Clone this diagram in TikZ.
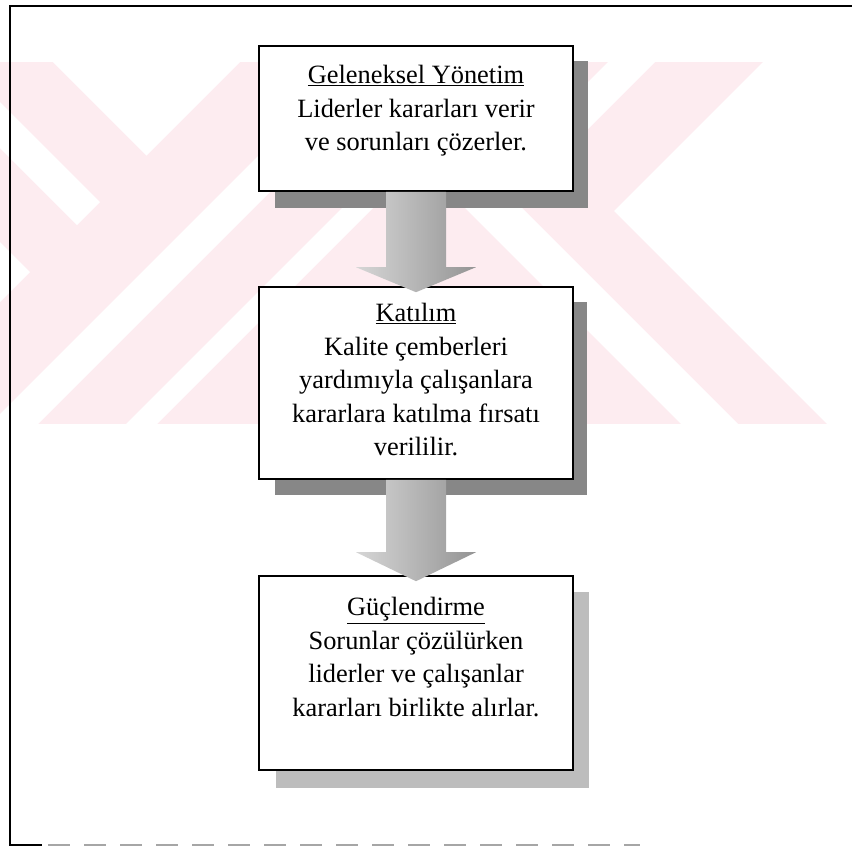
\documentclass[tikz,border=0pt]{standalone}
\usepackage{fontspec}
\setmainfont{Liberation Serif}
\usetikzlibrary{calc}
\definecolor{wmpink}{RGB}{253,236,240}
\begin{document}
\begin{tikzpicture}[x=1pt,y=-1pt,
  box/.style={draw=black, line width=1.6pt, fill=white, minimum width=314pt,
              minimum height=#1, inner sep=0pt},
  shadowdark/.style={fill=black!47},
  shadowlight/.style={fill=black!26},
  boxtext/.style={align=center, inner sep=0pt, anchor=north,
                  font=\fontsize{26.4}{33.5}\selectfont},
  flowarrow/.style={left color=black!16, right color=black!42, draw=none},
  frameline/.style={line width=1.8pt, black}
]
\useasboundingbox (0,0) rectangle (852,849);

% pale background emblem made of diagonal bands
\begin{scope}
  \clip (0,62) rectangle (852,424);
  \fill[wmpink] (0,62) rectangle (852,424);
  \fill[white] (146.5,155.5) -- (-209,-200) -- (502,-200) -- cycle;
  \fill[white] (100,202) -- (77,225) -- (-274,-126) -- (-251,-149) -- cycle;
  \fill[white] (30,272) -- (-400,-158) -- (-400,702) -- cycle;
  \fill[white] (-200,614) -- (1000,-586) -- (1000,-538) -- (-200,662) -- cycle;
  \fill[white] (-200,750) -- (1000,-450) -- (1000,-419) -- (-200,781) -- cycle;
  \fill[white] (917,-200) -- (515.5,201.5) -- (1114,800) -- (1057,800)
               -- (463.5,206.5) -- (870,-200) -- cycle;
  \fill[white] (1025,-200) -- (614,211) -- (1203,800) -- (1400,800) -- (1400,-200) -- cycle;
\end{scope}

% outer frame
\draw[frameline] (852,6) -- (10,6) -- (10,845) -- (42,845);
\draw[black!35, line width=2pt, dash pattern=on 22pt off 14pt] (48,845) -- (640,845);

% box geometry (placed first so the shadows can refer to it)
\path (416,118.5) node[box=145pt, draw=none, fill=none] (b1) {};
\path (416,383) node[box=192pt, draw=none, fill=none] (b2) {};
\path (416,673) node[box=194pt, draw=none, fill=none] (b3) {};

% drop shadows
\fill[shadowdark] ($(b1.north west)+(17,16)$) rectangle ($(b1.south east)+(14,16)$);
\fill[shadowdark] ($(b2.north west)+(17,16)$) rectangle ($(b2.south east)+(13,15)$);
\fill[shadowlight] ($(b3.north west)+(18,17)$) rectangle ($(b3.south east)+(15,17)$);

% boxes
\node[box=145pt] (box1) at (b1) {};
\node[box=192pt] (box2) at (b2) {};
\node[box=194pt] (box3) at (b3) {};

% texts
\node[boxtext] (t1) at ($(box1.north)+(0,20)$)
  {\underline{Geleneksel Yönetim}\\Liderler kararları verir\\ve sorunları çözerler.};
\node[boxtext] (t2) at ($(box2.north)+(0,17)$)
  {\underline{Katılım}\\Kalite çemberleri\\yardımıyla çalışanlara\\kararlara katılma fırsatı\\verililir.};
\node[boxtext] (t3) at ($(box3.north)+(0,22)$)
  {\underline{Güçlendirme}\\Sorunlar çözülürken\\liderler ve çalışanlar\\kararları birlikte alırlar.};

% block arrows between the boxes
\shade[flowarrow] ($(box1.south)+(-30,0)$) -- ($(box1.south)+(30,0)$)
  -- ($(box2.north)+(30,-19)$) -- ($(box2.north)+(60,-19)$)
  -- ($(box2.north)+(0,6)$) -- ($(box2.north)+(-60,-19)$)
  -- ($(box2.north)+(-30,-19)$) -- cycle;
\shade[flowarrow] ($(box2.south)+(-30,0)$) -- ($(box2.south)+(30,0)$)
  -- ($(box3.north)+(30,-23)$) -- ($(box3.north)+(60,-23)$)
  -- ($(box3.north)+(0,6)$) -- ($(box3.north)+(-60,-23)$)
  -- ($(box3.north)+(-30,-23)$) -- cycle;
\end{tikzpicture}
\end{document}
